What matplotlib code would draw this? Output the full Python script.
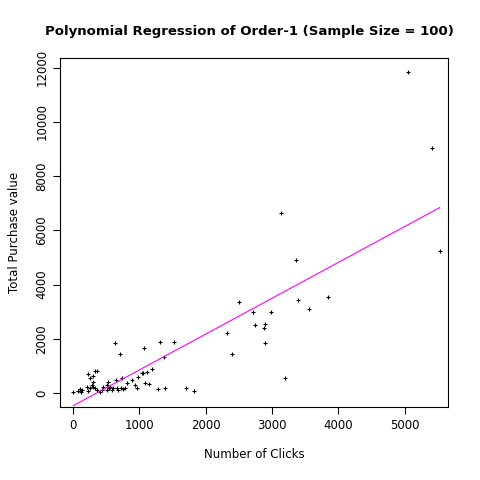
import matplotlib
matplotlib.use("Agg")
import matplotlib.pyplot as plt
import numpy as np

clicks = [5,80,106,116,131,206,231,256,281,307,297,332,357,221,256,307,327,367,407,432,457,508,518,533,548,558,583,608,633,648,658,684,709,719,734,759,784,809,885,935,960,985,1036,1061,1076,1086,1121,1151,1186,1287,1312,1372,1387,1523,1704,1825,
          2320,2400,2510,2720,2750,2880,2900,2900,2980,3130,3200,3370,3400,3560,3850,5060,5420,5530]
purchase = [20,85,135,50,110,233,73,170,295,418,233,170,110,688,541,627,824,800,50,110,233,110,295,418,170,233,110,170,1857,480,170,110,1427,170,541,135,170,380,480,295,170,603,726,726,1648,356,763,320,873,135,1894,1341,196,1870,170,85,
            2200,1450,3350,2980,2500,2400,2550,1850,2980,6650,550,4900,3420,3100,3550,11850,9030,5250]

x = np.array(clicks, float); y = np.array(purchase, float)
b1, b0 = np.polyfit(x, y, 1)
xs = np.array([x.min(), x.max()])

fig = plt.figure(figsize=(4.8, 4.8), dpi=100)
ax = fig.add_axes([60/480, 1-407/480, 388/480, 349/480])
ax.scatter(x, y, marker='+', s=6, c='black', linewidths=0.8)
ax.plot(xs, b0 + b1*xs, color='#FF00FF', lw=0.8)
ax.set_xlim(-196, 5656); ax.set_ylim(-517, 12360)
ax.set_xticks([0,1000,2000,3000,4000,5000])
ax.set_yticks(range(0,12001,2000))
for t in ax.get_yticklabels():
    t.set_rotation(90); t.set_va('center')
ax.tick_params(labelsize=8.5, direction='out', length=5)
ax.set_xlabel('Number of Clicks', fontsize=8.5, labelpad=12)
ax.set_ylabel('Total Purchase value', fontsize=8.5, labelpad=10)
fig.text(0.52, 1-32/480, 'Polynomial Regression of Order-1 (Sample Size = 100)', ha='center', va='center', fontsize=9.5, fontweight='bold')
fig.savefig('out.png', dpi=100)
